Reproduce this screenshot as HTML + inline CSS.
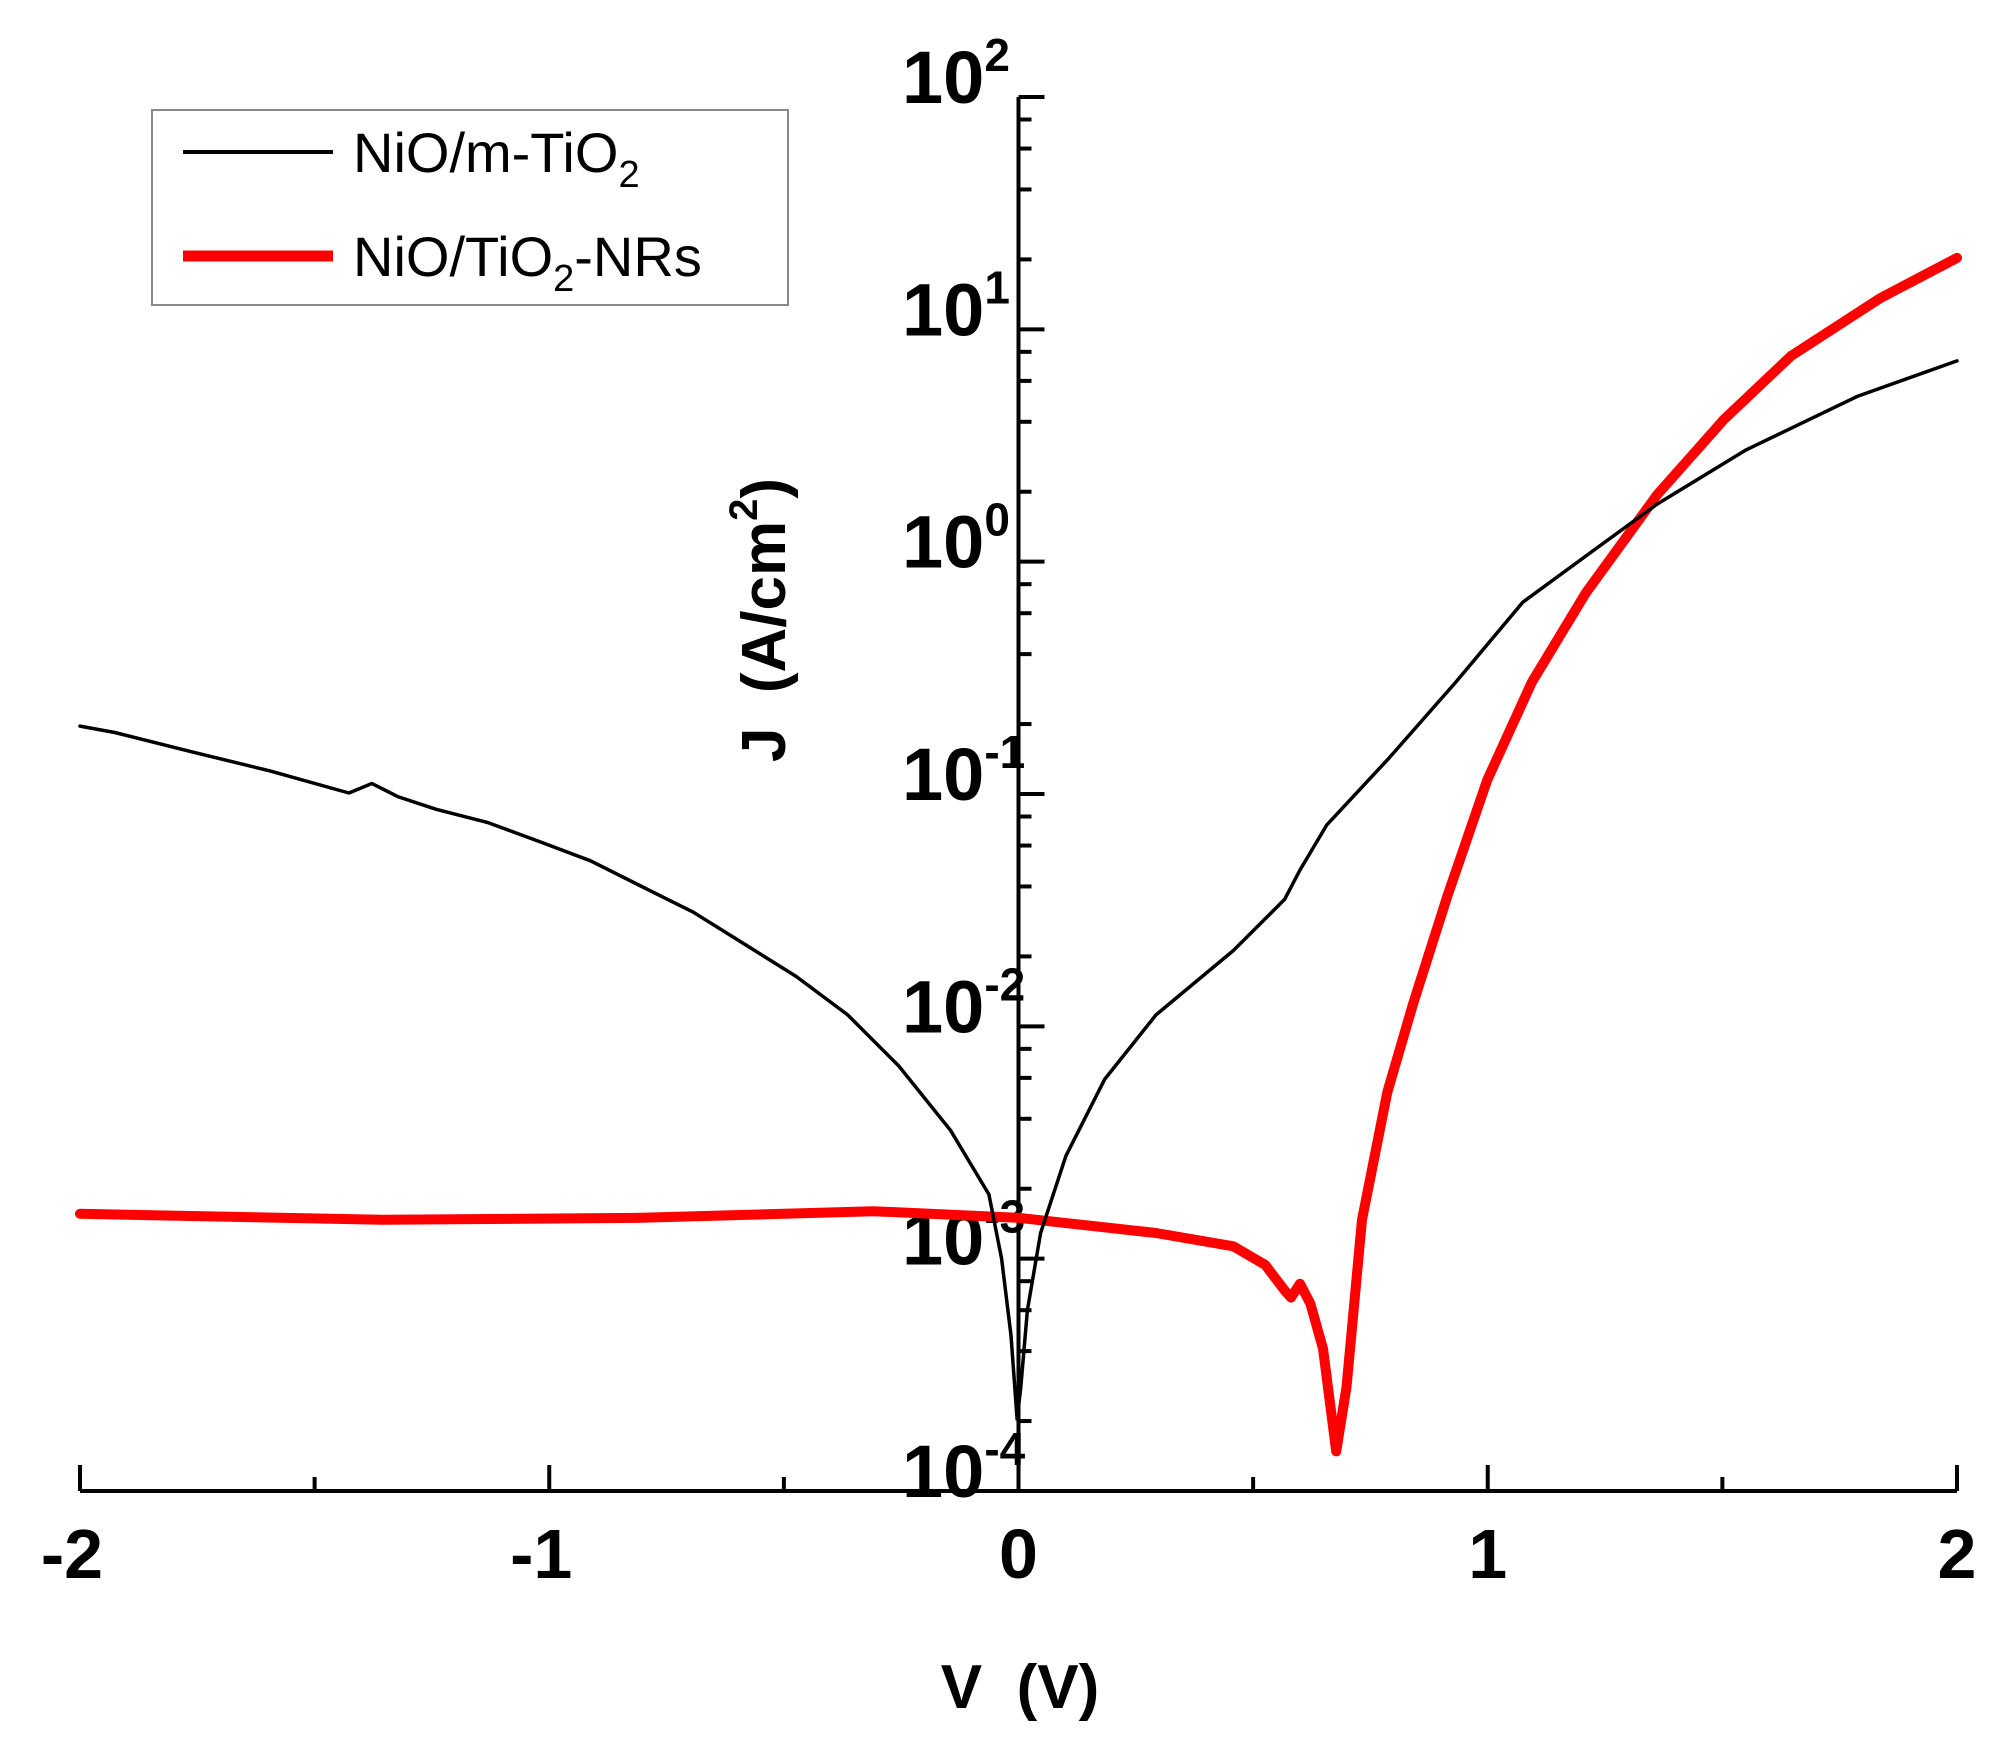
<!DOCTYPE html>
<html><head><meta charset="utf-8"><style>
html,body{margin:0;padding:0;background:#fff;}
svg{display:block;font-family:"Liberation Sans",Arial,sans-serif;}
</style></head><body>
<svg id="chart" width="2015" height="1739" viewBox="0 0 2015 1739" xmlns="http://www.w3.org/2000/svg">
<g id="axes"></g>
<g id="series"></g>
<text x="1020" y="1708" font-size="62" font-weight="bold" text-anchor="middle" xml:space="preserve">V  (V)</text>
<text transform="translate(785,620) rotate(-90)" font-size="62" font-weight="bold" text-anchor="middle" xml:space="preserve">J  (A/cm<tspan font-size="40" dy="-28">2</tspan><tspan dy="28">)</tspan></text>
<g>
<rect x="152" y="110" width="636" height="195" fill="#fff" stroke="#888" stroke-width="2"/>
<line x1="183" y1="152" x2="333" y2="152" stroke="#000" stroke-width="4"/>
<text x="353" y="172" font-size="56">NiO/m-TiO<tspan font-size="38" dy="15">2</tspan></text>
<line x1="183" y1="256" x2="333" y2="256" stroke="#ff0000" stroke-width="11"/>
<text x="353" y="276" font-size="56">NiO/TiO<tspan font-size="38" dy="15">2</tspan><tspan dy="-15">-NRs</tspan></text>
</g>
</svg>
<script>
const xTicks = [-2, -1, 0, 1, 2];
const yExps = [2, 1, 0, -1, -2, -3, -4];
const blackV = [-2.0,-1.926,-1.762,-1.597,-1.427,-1.378,-1.323,-1.241,-1.132,-1.022,-0.912,-0.803,-0.693,-0.584,-0.474,-0.364,-0.255,-0.145,-0.063,-0.036,-0.016,-0.003,0.005,0.019,0.047,0.101,0.184,0.293,0.458,0.567,0.600,0.657,0.790,0.932,1.075,1.218,1.361,1.551,1.789,2.0];
const blackJ = [0.196,0.184,0.152,0.126,0.101,0.111,0.0975,0.0859,0.0755,0.0625,0.0516,0.040,0.031,0.0226,0.0164,0.0112,0.00675,0.00357,0.00189,0.001,4.67e-4,2.04e-4,2.8e-4,6.0e-4,1.29e-3,2.77e-3,5.93e-3,0.0112,0.0212,0.0352,0.0471,0.0736,0.143,0.303,0.670,1.09,1.77,3.03,5.16,7.31];
const redV = [-2.0,-1.351,-0.803,-0.310,0,0.293,0.458,0.526,0.567,0.581,0.600,0.622,0.649,0.677,0.699,0.732,0.786,0.841,0.914,0.999,1.094,1.209,1.361,1.504,1.646,1.836,2.0];
const redJ = [1.56e-3,1.47e-3,1.50e-3,1.60e-3,1.50e-3,1.29e-3,1.13e-3,9.4e-4,7.3e-4,6.8e-4,7.8e-4,6.4e-4,4.1e-4,1.48e-4,2.8e-4,1.47e-3,5.2e-3,0.0125,0.0364,0.115,0.303,0.733,1.94,4.11,7.67,13.6,20.3];

const NS = "http://www.w3.org/2000/svg";
const X0 = 80, X1 = 1957, Ytop = 97, Ybot = 1491;
const xMin = -2, xMax = 2, yMinE = -4, yMaxE = 2;
function xs(v){ return X0 + (v - xMin) / (xMax - xMin) * (X1 - X0); }
function ys(j){ return Ybot - (Math.log10(j) - yMinE) / (yMaxE - yMinE) * (Ybot - Ytop); }
function mk(tag, attrs, parent){ const e = document.createElementNS(NS, tag); for (const k in attrs) e.setAttribute(k, attrs[k]); parent.appendChild(e); return e; }

const axes = document.getElementById('axes');
const xAxis = mk('line', {x1:X0, y1:Ybot, x2:X1, y2:Ybot, stroke:'#000', 'stroke-width':4}, axes);


const yAxis = mk('line', {x1:xs(0), y1:Ytop, x2:xs(0), y2:Ybot, stroke:'#000', 'stroke-width':4}, axes);



xTicks.forEach(v => {
  const t = mk('line', {x1:xs(v), y1:Ybot, x2:xs(v), y2:Ybot-26, stroke:'#000', 'stroke-width':4}, axes);
  
  
  const lb = mk('text', {x:xs(v) - (v < 0 ? 8 : 0), y:1578, 'font-size':70, 'font-weight':'bold', 'text-anchor':'middle'}, axes);
  lb.textContent = String(v);
  
  
});
for (let i = 0; i < xTicks.length - 1; i++) {
  const v = (xTicks[i] + xTicks[i+1]) / 2;
  const t = mk('line', {x1:xs(v), y1:Ybot, x2:xs(v), y2:Ybot-14, stroke:'#000', 'stroke-width':4}, axes);
  
  
}
yExps.forEach(e => {
  const y = ys(Math.pow(10, e));
  const t = mk('line', {x1:xs(0), y1:y, x2:xs(0)+26, y2:y, stroke:'#000', 'stroke-width':4}, axes);
  
  
  const lb = mk('text', {x:902, y:y+6, 'font-size':74, 'font-weight':'bold'}, axes);
  
  
  lb.textContent = '10';
  const sup = mk('tspan', {'font-size':46, dy:-32}, lb);
  sup.textContent = String(e);
  if (e > yMinE) {
    [2, 4, 6, 8].forEach(m => {
      const ym = ys(m * Math.pow(10, e - 1));
      const mt = mk('line', {x1:xs(0), y1:ym, x2:xs(0)+13, y2:ym, stroke:'#000', 'stroke-width':4}, axes);
      
      
    });
  }
});

const series = document.getElementById('series');
function drawLine(V, J, color, w, name){
  const pts = V.map((v, i) => xs(v).toFixed(1) + ',' + ys(J[i]).toFixed(1)).join(' ');
  const p = mk('polyline', {points:pts, fill:'none', stroke:color, 'stroke-width':w, 'stroke-linejoin':'round', 'stroke-linecap':'round'}, series);
  
  
}
drawLine(redV, redJ, '#ff0000', 10, 'series-nio-tio2-nrs');
drawLine(blackV, blackJ, '#000', 3.5, 'series-nio-m-tio2');
</script>
</body></html>
